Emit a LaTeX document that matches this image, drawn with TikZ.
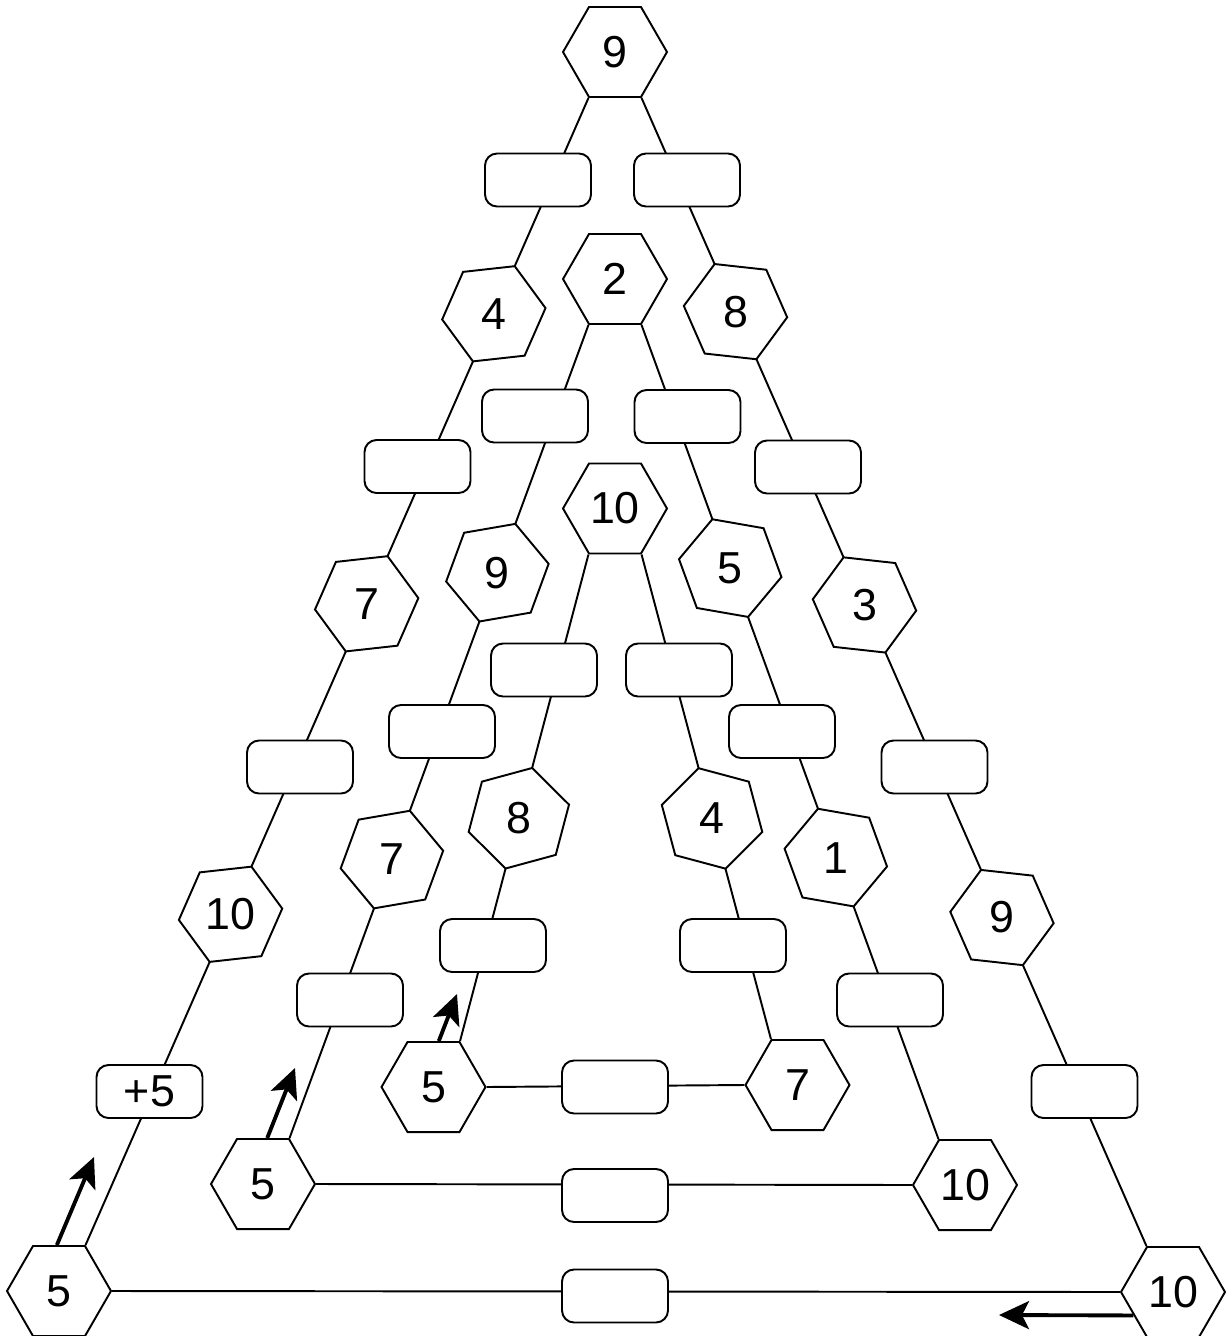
\documentclass[tikz,border=0pt]{standalone}
\usepackage{fontspec}
\setmainfont{Liberation Sans}
\usetikzlibrary{shapes.geometric,calc,arrows.meta}
\pgfdeclarelayer{bg}
\pgfsetlayers{bg,main}
\begin{document}
\begin{tikzpicture}[x=0.02cm,y=-0.02cm,
  hexa/.style={regular polygon, regular polygon sides=6, minimum size=2.08cm,
    inner sep=0pt, draw, fill=white, line width=1.1pt,
    font=\fontsize{25.5}{30}\selectfont},
  blank/.style={rounded corners=0.24cm, draw, fill=white, minimum width=2.12cm,
    minimum height=1.06cm, inner sep=0pt, line width=1.1pt,
    font=\fontsize{25.5}{30}\selectfont},
  link/.style={line width=1.1pt},
  push/.style={line width=2.2pt, -{Stealth[length=0.6cm,width=0.56cm,inset=0.14cm]}}]
\useasboundingbox (0,0) rectangle (1226,1336);

% ---------- outer triangle ----------
\node[hexa] (A0) at (615,52) {9};
\node[hexa] (AL) at (59,1291) {5};
\node[hexa] (AR) at (1173,1292) {10};
\node[hexa, shape border rotate=6.3]  (Al1) at ($(A0.240)!(492,313)!(AL.60)$) {4};
\node[hexa, shape border rotate=6.3]  (Al2) at ($(A0.240)!(367,604)!(AL.60)$) {7};
\node[hexa, shape border rotate=6.3]  (Al3) at ($(A0.240)!(232,915)!(AL.60)$) {10};
\node[hexa, shape border rotate=-6.3] (Ar1) at ($(A0.300)!(737,311)!(AR.120)$) {8};
\node[hexa, shape border rotate=-6.3] (Ar2) at ($(A0.300)!(864.5,605)!(AR.120)$) {3};
\node[hexa, shape border rotate=-6.3] (Ar3) at ($(A0.300)!(1000,918.5)!(AR.120)$) {9};
\node[blank] (Ab1) at (538,180) {};
\node[blank] (Ab2) at (417.5,466.5) {};
\node[blank] (Ab3) at (300,767) {};
\node[blank] (Ab4) at (149.5,1091.5) {+5};
\node[blank] (Ac1) at (687,180) {};
\node[blank] (Ac2) at (808,467) {};
\node[blank] (Ac3) at (934.5,767) {};
\node[blank] (Ac4) at (1084.5,1091.5) {};
\node[blank] (Ad) at (615,1296) {};

% ---------- middle triangle ----------
\node[hexa] (B0) at (615,279) {2};
\node[hexa] (BL) at (263,1184) {5};
\node[hexa] (BR) at (965,1185) {10};
\node[hexa, shape border rotate=9.8]  (Bl1) at ($(B0.240)!(505,575.5)!(BL.60)$) {9};
\node[hexa, shape border rotate=9.8]  (Bl2) at ($(B0.240)!(397,861.5)!(BL.60)$) {7};
\node[hexa, shape border rotate=-9.9] (Br1) at ($(B0.300)!(725,570)!(BR.120)$) {5};
\node[hexa, shape border rotate=-9.9] (Br2) at ($(B0.300)!(832,859)!(BR.120)$) {1};
\node[blank] (Bb1) at (535,416) {};
\node[blank] (Bb2) at (442,731.5) {};
\node[blank] (Bb3) at (350,1000) {};
\node[blank] (Bc1) at (687.5,416.5) {};
\node[blank] (Bc2) at (782,731.5) {};
\node[blank] (Bc3) at (890,1000) {};
\node[blank] (Bd) at (615,1195.5) {};

% ---------- inner triangle ----------
\node[hexa] (C0) at (615,508.5) {10};
\node[hexa] (CL) at (433.5,1087) {5};
\node[hexa] (CR) at (797.5,1085) {7};
\node[hexa, shape border rotate=15.2] (Cl1) at ($(C0.240)!(523.5,819.5)!(CL.60)$) {8};
\node[hexa, shape border rotate=-15]  (Cr1) at ($(C0.300)!(708,819.5)!(CR.120)$) {4};
\node[blank] (Cb1) at (544,670) {};
\node[blank] (Cb2) at (493,945.5) {};
\node[blank] (Cc1) at (679,670) {};
\node[blank] (Cc2) at (733,945.5) {};
\node[blank] (Cd) at (615,1087) {};

% ---------- connectors (behind the shapes) ----------
\begin{pgfonlayer}{bg}
  \draw[link] (A0.240) -- (AL.60);
  \draw[link] (A0.300) -- (AR.120);
  \draw[link] (AL.0) -- (AR.180);
  \draw[link] (B0.240) -- (BL.60);
  \draw[link] (B0.300) -- (BR.120);
  \draw[link] (BL.0) -- (BR.180);
  \draw[link] (C0.240) -- (CL.60);
  \draw[link] (C0.300) -- (CR.120);
  \draw[link] (CL.0) -- (CR.180);
\end{pgfonlayer}

% ---------- arrows ----------
\coordinate (t1) at (94,1157);
\coordinate (t2) at (295,1068);
\coordinate (t3) at (457,994);
\coordinate (t4) at (999,1315);
\draw[push] ($(AL.120)!0.46!(AL.60)$) -- (t1);
\draw[push] ($(BL.120)!0.58!(BL.60)$) -- (t2);
\draw[push] ($(CL.120)!0.6!(CL.60)$) -- (t3);
\draw[push] ($(AR.180)!0.51!(AR.240)$) -- (t4);
\end{tikzpicture}
\end{document}
